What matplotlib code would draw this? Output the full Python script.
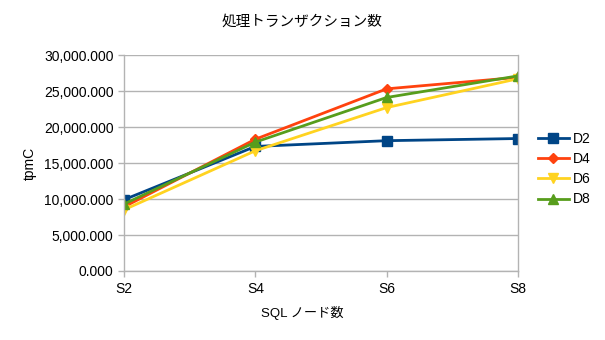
import matplotlib
matplotlib.use("Agg")
import matplotlib.pyplot as plt
from matplotlib.ticker import FuncFormatter, MultipleLocator

# SQLノード数ごとの処理トランザクション数 (tpmC)
nodes = ["S2", "S4", "S6", "S8"]
d2 = [9900, 17300, 18100, 18400]
d4 = [8900, 18300, 25300, 26900]
d6 = [8500, 16700, 22700, 26700]
d8 = [9300, 17900, 24100, 27100]

series = [
    ("D2", d2, "#004586", "s", 7),
    ("D4", d4, "#ff420e", "D", 5.5),
    ("D6", d6, "#ffd320", "v", 7),
    ("D8", d8, "#579d1c", "^", 7),
]

plt.rcParams['font.family'] = ['Liberation Sans', 'Noto Sans CJK JP', 'DejaVu Sans']
grid_c = "#b3b3b3"

fig = plt.figure(figsize=(6.05, 3.40), dpi=100)
ax = fig.add_axes([124 / 605, 1 - 271 / 340, (518 - 124) / 605, (271 - 55) / 340])

x = list(range(len(nodes)))
for name, vals, col, mk, ms in series:
    ax.plot(x, vals, color=col, lw=2.0, marker=mk, markersize=ms,
            markeredgecolor=col, label=name)

ax.set_xlim(0, len(nodes) - 1)
ax.set_ylim(0, 30000)
ax.yaxis.set_major_locator(MultipleLocator(5000))
ax.yaxis.set_major_formatter(FuncFormatter(lambda v, p: f"{v:,.0f}.000" if v else "0.000"))
ax.set_xticks(x)
ax.set_xticklabels(nodes)

ax.grid(axis="y", color=grid_c, lw=1.0)
ax.set_axisbelow(True)
for s in ["left", "bottom", "right"]:
    ax.spines[s].set_color(grid_c)
    ax.spines[s].set_linewidth(1.0)
ax.spines["top"].set_visible(False)
ax.tick_params(axis="both", colors=grid_c, length=4, width=1.0, labelcolor="#000000", labelsize=10)
ax.tick_params(axis="x", pad=4)

# タイトルとX軸ラベルは図全体の中央に置く
fig.text(0.5, 1 - 22 / 340, "処理トランザクション数", fontsize=10.5,
         family=['Noto Sans CJK JP'], ha="center", va="center")
fig.text(0.5, 1 - 313 / 340, "SQL ノード数", fontsize=9.5,
         family=['Liberation Sans', 'Noto Sans CJK JP'], ha="center", va="center")
ax.set_ylabel("tpmC", fontsize=10, labelpad=5)

fig.legend(loc="center left", bbox_to_anchor=(538 / 605, 1 - 169 / 340), frameon=False,
           fontsize=10, handlelength=2.2, labelspacing=0.45, handletextpad=0.3,
           borderaxespad=0, borderpad=0)

fig.savefig("out.png", dpi=100)
